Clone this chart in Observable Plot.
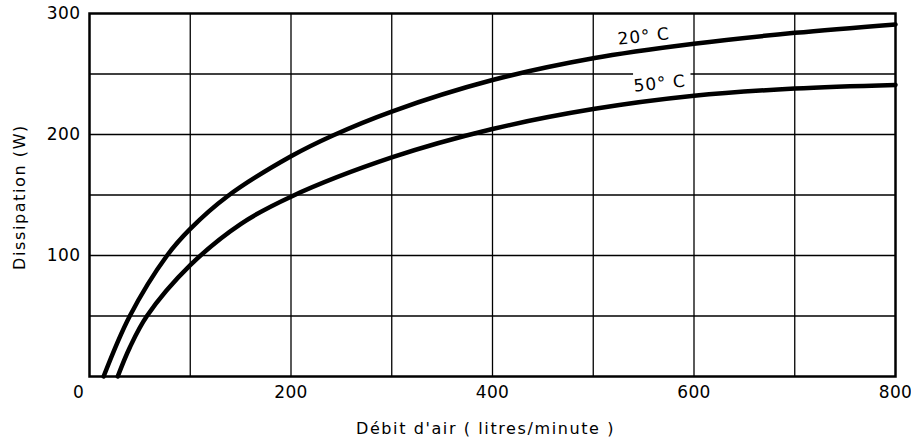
<!DOCTYPE html>
<html>
<head>
<meta charset="utf-8">
<script src="https://cdn.jsdelivr.net/npm/d3@7"></script>
<script src="https://cdn.jsdelivr.net/npm/@observablehq/plot@0.6"></script>
<style>
  html, body { margin: 0; padding: 0; background: #fff; }
  #chart svg { display: block; }
</style>
</head>
<body>
<div id="chart"></div>
<script>
// Data
const flow20 = [14, 40, 77, 100, 137, 200, 241, 300, 400, 500, 600, 700, 800];
const diss20 = [0, 50, 100, 122, 149, 182, 199, 219, 245, 263, 275, 284, 291];
const flow50 = [28, 40, 57, 100, 150, 200, 300, 400, 500, 600, 700, 800];
const diss50 = [0, 24, 50, 92, 126, 148.6, 181, 204.5, 221, 232, 238, 241];

const seriesLabels = ["20° C", "50° C"];
const labelX = [550, 566];
const labelY = [281, 242];
const labelHalo = [0, 6];

const xTicks = [200, 400, 600, 800];
const yTicks = [100, 200, 300];
const xGrid = [100, 200, 300, 400, 500, 600, 700];
const yGrid = [50, 100, 150, 200, 250];

const xTitle = "Débit d'air ( litres/minute )";
const yTitle = "Dissipation (W)";

const rows = [
  ...flow20.map((f, i) => ({series: "20", flow: f, diss: diss20[i]})),
  ...flow50.map((f, i) => ({series: "50", flow: f, diss: diss50[i]}))
];
const labels = seriesLabels.map((t, i) => ({text: t, x: labelX[i], y: labelY[i], halo: labelHalo[i]}));
// the 50° C label interrupts the 250 gridline in the original
const gap = [{y: yGrid[4], x1: labelX[1] - 26, x2: labelX[1] + 31}];

const font = "'DejaVu Sans', sans-serif";

const chart = Plot.plot({
  width: 911,
  height: 446,
  marginLeft: 89,
  marginRight: 16,
  marginTop: 13,
  marginBottom: 70,
  style: {fontFamily: font, fontSize: "16px", color: "#000", background: "#fff"},
  x: {domain: [0, 800], label: null, axis: null},
  y: {domain: [0, 300], label: null, axis: null},
  marks: [
    Plot.ruleX(xGrid, {stroke: "#000", strokeWidth: 1.3}),
    Plot.ruleY(yGrid, {stroke: "#000", strokeWidth: 1.3}),
    Plot.ruleY(gap, {y: "y", x1: "x1", x2: "x2", stroke: "white", strokeWidth: 4}),
    Plot.text(labels, {x: "x", y: "y", text: "text", rotate: -6, fontSize: 17, fill: "#000",
      stroke: "white", strokeWidth: "halo"}),
    Plot.line(rows, {x: "flow", y: "diss", z: "series", curve: "catmull-rom", stroke: "#000", strokeWidth: 4.5}),
    Plot.frame({stroke: "#000", strokeWidth: 2.5}),
    Plot.axisX(xTicks, {tickSize: 0, tickPadding: 9, fontSize: 17, label: null}),
    Plot.text([0], {x: 0, y: 0, text: d => String(d), dx: -11, dy: 16, fontSize: 17, lineAnchor: "middle"}),
    Plot.axisY(yTicks, {tickSize: 0, tickPadding: 9, fontSize: 17, label: null}),
    Plot.text([xTitle], {frameAnchor: "bottom", textAnchor: "middle", lineAnchor: "middle", dx: -7, dy: 52, fontSize: 16, fill: "#000"}),
    Plot.text([yTitle], {frameAnchor: "left", textAnchor: "middle", lineAnchor: "middle", dx: -70, dy: 2, rotate: -90, fontSize: 16, fill: "#000"})
  ]
});
d3.select(chart).selectAll("text").each(function() {
  const t = this.textContent;
  const spacing = (t === xTitle || t === yTitle) ? "1.6px" : (/^\d+$/.test(t) ? "0.4px" : "1px");
  this.style.letterSpacing = spacing;
  this.setAttribute("letter-spacing", spacing);
});
document.getElementById("chart").appendChild(chart);
</script>
</body>
</html>
